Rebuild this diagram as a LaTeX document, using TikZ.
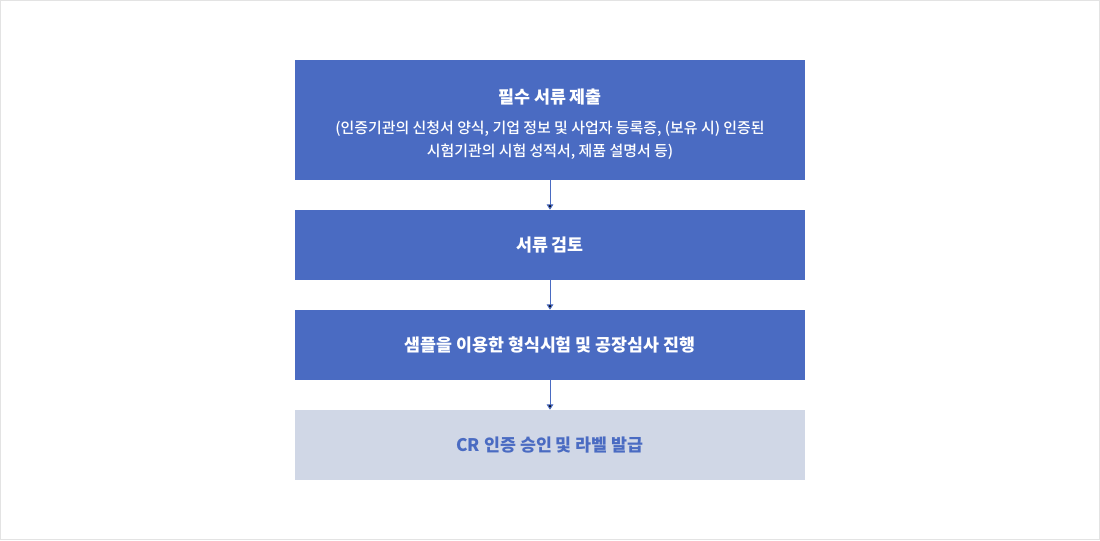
\documentclass[tikz,border=0pt]{standalone}
\usepackage{fontspec}
\setmainfont{Noto Sans CJK KR}
\newfontfamily\medfont{Noto Sans CJK KR Medium}
\usepackage{tikz}
\usetikzlibrary{arrows.meta,positioning,calc}
\definecolor{stepblue}{HTML}{4A6BC2}
\definecolor{steplight}{HTML}{D0D7E6}
\definecolor{frame}{HTML}{E3E3E3}

\begin{document}
\begin{tikzpicture}[x=0.75pt,y=-0.75pt,
stepbox/.style={fill=stepblue,text=white,minimum width=382.5pt,
  minimum height=52.5pt,inner sep=0pt,align=center,
  font=\fontsize{13}{16}\selectfont\bfseries},
lastbox/.style={stepbox,fill=steplight,text=stepblue},
flow/.style={draw=stepblue,line width=0.75pt,
  -{Triangle[width=5pt,length=4pt]}}]
% frame
\draw[frame,line width=0.75pt] (0.5,0.5) rectangle (1099.5,539.5);
\useasboundingbox (0,0) rectangle (1100,540);

\node (s1) at (550,120) [stepbox,minimum height=90pt] {};
\node (s1text) at (550,124) [text=white,align=center,inner sep=0pt,
  font=\fontsize{11.2}{17.25}\medfont]
  {{\fontsize{13}{16}\selectfont\bfseries 필수 서류 제출}\\[5.5pt]
   (인증기관의 신청서 양식, 기업 정보 및 사업자 등록증, (보유 시) 인증된\\
   시험기관의 시험 성적서, 제품 설명서 등)};
\node (s2) at (550,245) [stepbox] {서류 검토};
\node (s3) at (550,345) [stepbox] {샘플을 이용한 형식시험 및 공장심사 진행};
\node (s4) at (550,445) [lastbox] {CR 인증 승인 및 라벨 발급};

\draw[flow] (s1) edge (s2);
\draw[flow] (s2) edge (s3);
\draw[flow] (s3) edge (s4);

\end{tikzpicture}
\end{document}
